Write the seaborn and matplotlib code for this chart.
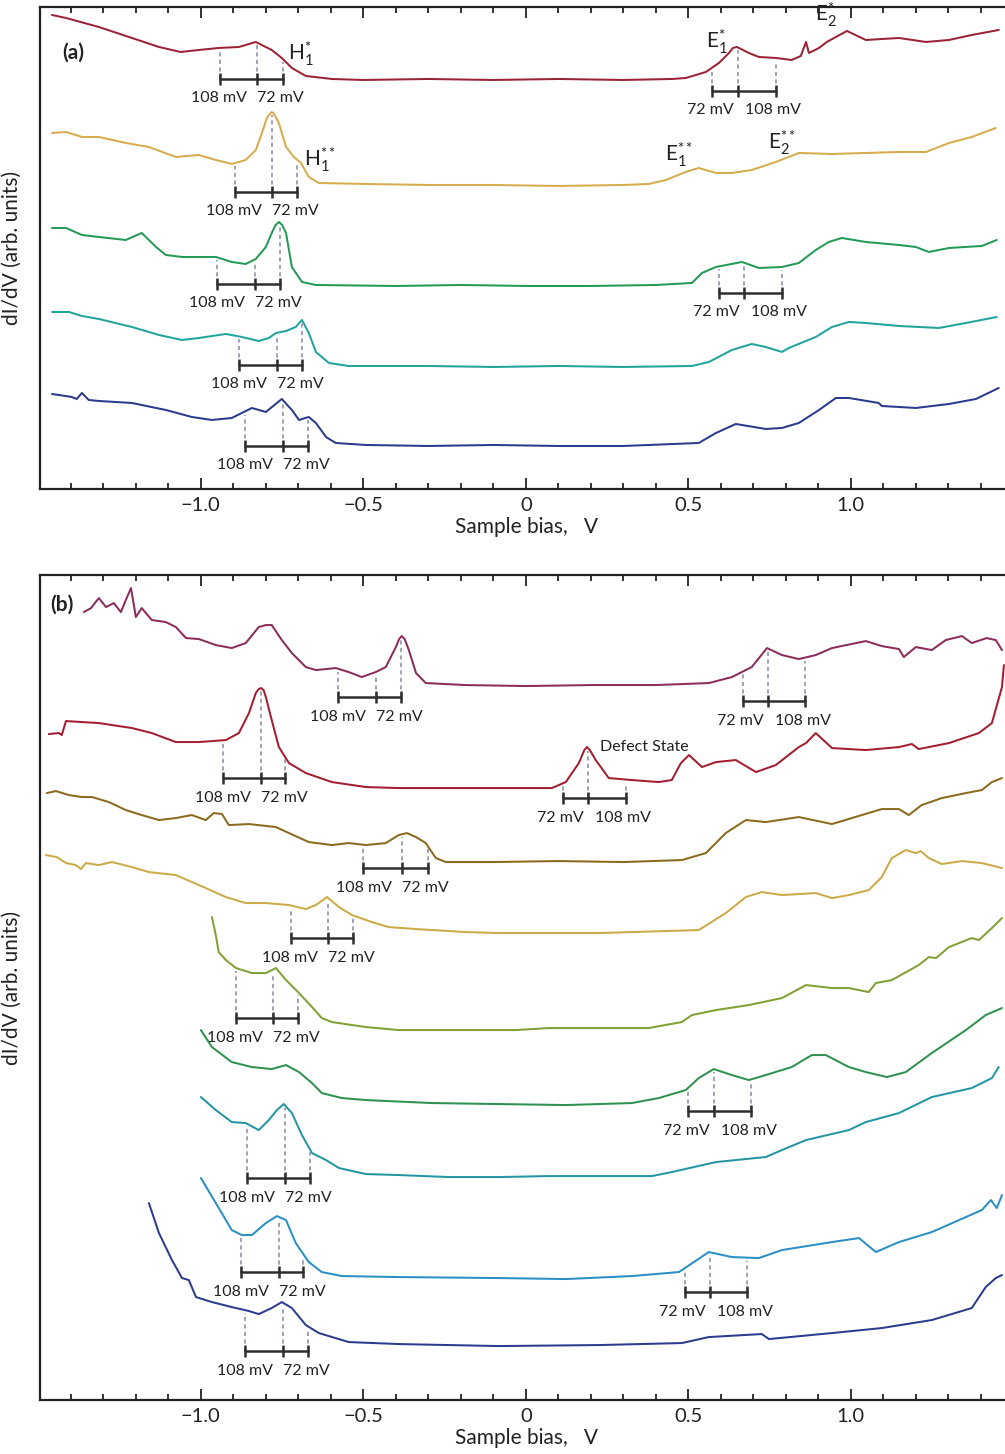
import numpy as np
import matplotlib
matplotlib.use("Agg")
import matplotlib.pyplot as plt
import seaborn as sns
from matplotlib.ticker import MultipleLocator

# ---- panel (a) spectra: sample bias (V) and dI/dV (arb. units, stacked) ----
bias_a1 = [-1.458, -1.415, -1.314, -1.212, -1.129, -1.062, -1.006, -0.945, -0.883, -0.831, -0.782, -0.751,
           -0.720, -0.677, -0.597, -0.5, -0.3, -0.1, 0.1, 0.3, 0.45, 0.492, 0.554, 0.594, 0.625, 0.637, 0.649,
           0.662, 0.686, 0.717, 0.769, 0.818, 0.846, 0.862, 0.871, 0.902, 0.926, 0.954, 0.988, 1.046, 1.148,
           1.231, 1.302, 1.372, 1.455]
didv_a1 = [474, 471, 462, 451, 442, 437, 439, 441, 442, 447, 439, 431, 421, 413, 410, 409, 410, 409, 410, 409,
           410, 411, 417, 426, 436, 441, 442, 440, 436, 432, 431, 429, 433, 447, 436, 441, 447, 452, 458, 449,
           451, 447, 449, 454, 459]

bias_a2 = [-1.458, -1.415, -1.366, -1.314, -1.231, -1.160, -1.077, -1.006, -0.954, -0.905, -0.862, -0.831,
           -0.812, -0.797, -0.788, -0.782, -0.775, -0.760, -0.738, -0.714, -0.692, -0.668, -0.637, -0.492, -0.3,
           -0.1, 0.1, 0.3, 0.378, 0.431, 0.492, 0.532, 0.585, 0.634, 0.695, 0.769, 0.840, 0.942, 1.046, 1.148,
           1.231, 1.302, 1.372, 1.446]
didv_a2 = [356, 357, 352, 352, 346, 342, 332, 334, 329, 325, 329, 339, 356, 371, 375, 377, 375, 366, 342, 332,
           326, 312, 306, 305, 304, 304, 303, 304, 305, 309, 317, 321, 316, 316, 319, 327, 336, 335, 336, 337,
           337, 346, 352, 361]

bias_a3 = [-1.458, -1.415, -1.366, -1.314, -1.231, -1.182, -1.138, -1.108, -1.058, -0.954, -0.905, -0.862,
           -0.831, -0.800, -0.782, -0.770, -0.760, -0.750, -0.738, -0.720, -0.689, -0.646, -0.4, -0.2, 0.0, 0.2,
           0.4, 0.511, 0.542, 0.585, 0.665, 0.717, 0.788, 0.840, 0.892, 0.932, 0.972, 1.046, 1.148, 1.200,
           1.240, 1.302, 1.403, 1.449]
didv_a3 = [261, 261, 254, 252, 249, 256, 242, 234, 232, 232, 227, 225, 230, 242, 256, 264, 267, 264, 256, 222,
           207, 204, 203, 204, 203, 203, 204, 206, 216, 222, 227, 221, 222, 226, 239, 247, 251, 247, 244, 242,
           237, 241, 243, 249]

bias_a4 = [-1.458, -1.406, -1.366, -1.314, -1.212, -1.129, -1.058, -1.006, -0.923, -0.874, -0.822, -0.791,
           -0.769, -0.738, -0.708, -0.689, -0.668, -0.646, -0.606, -0.545, -0.3, -0.1, 0.1, 0.3, 0.511, 0.563,
           0.634, 0.695, 0.738, 0.788, 0.809, 0.892, 0.942, 0.994, 1.046, 1.148, 1.271, 1.354, 1.449]
didv_a4 = [177, 177, 173, 170, 162, 154, 149, 151, 155, 152, 148, 151, 156, 158, 162, 169, 156, 137, 126, 123,
           123, 122, 123, 122, 123, 127, 139, 145, 142, 137, 141, 152, 162, 167, 166, 163, 161, 166, 172]

bias_a5 = [-1.458, -1.397, -1.382, -1.366, -1.345, -1.314, -1.212, -1.108, -1.028, -0.966, -0.905, -0.874,
           -0.843, -0.800, -0.751, -0.720, -0.698, -0.668, -0.646, -0.615, -0.585, -0.492, -0.3, -0.1, 0.1, 0.3,
           0.532, 0.585, 0.646, 0.738, 0.788, 0.840, 0.902, 0.954, 0.994, 1.086, 1.095, 1.200, 1.302, 1.385,
           1.455]
didv_a5 = [95, 92, 90, 96, 89, 88, 86, 79, 72, 69, 71, 76, 81, 77, 90, 79, 69, 72, 66, 52, 46, 44, 43, 44, 43,
           43, 46, 56, 65, 60, 61, 66, 79, 91, 91, 86, 83, 81, 85, 90, 101]

# ---- panel (b) spectra ----
bias_b1 = [-1.360, -1.338, -1.314, -1.292, -1.268, -1.246, -1.231, -1.215, -1.200, -1.182, -1.151, -1.108,
           -1.077, -1.046, -1.006, -0.954, -0.905, -0.862, -0.822, -0.800, -0.782, -0.751, -0.720, -0.677,
           -0.646, -0.585, -0.545, -0.505, -0.462, -0.431, -0.400, -0.390, -0.382, -0.373, -0.360, -0.338,
           -0.308, -0.185, 0.0, 0.2, 0.4, 0.563, 0.634, 0.695, 0.742, 0.788, 0.840, 0.892, 0.942, 1.046, 1.095,
           1.148, 1.163, 1.200, 1.249, 1.292, 1.342, 1.372, 1.418, 1.446, 1.465]
didv_b1 = [788, 792, 802, 793, 797, 788, 800, 812, 783, 792, 780, 778, 773, 762, 761, 755, 752, 757, 773, 775,
           775, 760, 747, 733, 730, 732, 728, 723, 728, 733, 753, 761, 764, 761, 750, 727, 717, 715, 714, 715,
           715, 717, 723, 733, 752, 745, 741, 745, 752, 759, 754, 751, 743, 753, 750, 760, 764, 757, 762, 760,
           750]

bias_b2 = [-1.468, -1.437, -1.428, -1.415, -1.366, -1.314, -1.212, -1.151, -1.077, -1.006, -0.923, -0.883,
           -0.852, -0.831, -0.822, -0.815, -0.807, -0.800, -0.782, -0.760, -0.729, -0.677, -0.597, -0.492,
           -0.391, -0.083, 0.080, 0.123, 0.163, 0.180, 0.188, 0.197, 0.215, 0.255, 0.326, 0.409, 0.449, 0.477,
           0.502, 0.542, 0.585, 0.646, 0.708, 0.769, 0.840, 0.862, 0.892, 0.942, 1.046, 1.148, 1.188, 1.209,
           1.302, 1.394, 1.434, 1.465, 1.471]
didv_b2 = [666, 667, 665, 679, 678, 677, 672, 667, 658, 658, 660, 667, 687, 707, 711, 712, 710, 703, 680, 653,
           637, 627, 618, 613, 612, 612, 612, 618, 637, 650, 653, 650, 640, 622, 620, 618, 620, 637, 645, 633,
           638, 640, 628, 635, 653, 657, 667, 652, 650, 653, 656, 651, 657, 667, 677, 713, 735]

bias_b3 = [-1.474, -1.446, -1.406, -1.366, -1.335, -1.283, -1.231, -1.182, -1.129, -1.077, -1.028, -0.985,
           -0.960, -0.935, -0.914, -0.852, -0.769, -0.729, -0.668, -0.597, -0.545, -0.492, -0.431, -0.391,
           -0.366, -0.338, -0.308, -0.277, -0.246, -0.1, 0.1, 0.3, 0.480, 0.554, 0.615, 0.677, 0.738, 0.840,
           0.942, 1.003, 1.095, 1.148, 1.178, 1.218, 1.280, 1.354, 1.403, 1.434, 1.465]
didv_b3 = [607, 609, 605, 603, 603, 598, 590, 585, 580, 582, 585, 580, 587, 586, 575, 576, 573, 567, 558, 555,
           557, 555, 557, 565, 567, 563, 557, 542, 538, 538, 539, 538, 540, 547, 567, 580, 578, 583, 576, 582,
           591, 591, 585, 595, 602, 607, 610, 618, 622]

bias_b4 = [-1.477, -1.443, -1.415, -1.385, -1.369, -1.354, -1.314, -1.274, -1.212, -1.160, -1.077, -1.006,
           -0.923, -0.862, -0.800, -0.729, -0.677, -0.646, -0.612, -0.575, -0.535, -0.474, -0.422, -0.338,
           -0.185, -0.083, 0.225, 0.532, 0.615, 0.677, 0.726, 0.788, 0.892, 0.942, 0.994, 1.055, 1.095, 1.126,
           1.169, 1.200, 1.215, 1.240, 1.280, 1.342, 1.403, 1.465]
didv_b4 = [545, 543, 537, 535, 531, 537, 535, 538, 533, 528, 525, 515, 503, 497, 497, 495, 491, 495, 503, 493,
           485, 478, 473, 471, 468, 467, 467, 470, 487, 503, 508, 505, 507, 502, 505, 510, 523, 542, 550, 547,
           549, 542, 536, 539, 537, 532]

bias_b5 = [-0.966, -0.954, -0.945, -0.923, -0.892, -0.843, -0.800, -0.769, -0.738, -0.698, -0.658, -0.628,
           -0.597, -0.492, -0.391, -0.185, -0.031, 0.071, 0.225, 0.378, 0.480, 0.511, 0.585, 0.686, 0.788,
           0.862, 0.942, 0.994, 1.055, 1.077, 1.126, 1.209, 1.240, 1.262, 1.302, 1.372, 1.394, 1.434, 1.465]
didv_b5 = [483, 465, 448, 440, 432, 427, 427, 432, 420, 407, 393, 382, 378, 373, 370, 370, 370, 372, 372, 372,
           378, 385, 390, 395, 402, 415, 412, 412, 408, 417, 420, 435, 443, 442, 453, 462, 460, 472, 482]

bias_b6 = [-1.000, -0.966, -0.905, -0.843, -0.782, -0.738, -0.698, -0.658, -0.628, -0.566, -0.492, -0.289,
           -0.083, 0.123, 0.326, 0.409, 0.492, 0.532, 0.578, 0.634, 0.686, 0.738, 0.818, 0.880, 0.923, 0.994,
           1.046, 1.111, 1.169, 1.249, 1.354, 1.415, 1.465]
didv_b6 = [370, 353, 338, 333, 331, 335, 328, 317, 307, 302, 300, 297, 296, 295, 297, 302, 310, 322, 331, 325,
           320, 325, 333, 345, 345, 333, 328, 323, 328, 347, 370, 385, 392]

bias_b7 = [-1.000, -0.954, -0.905, -0.862, -0.822, -0.791, -0.766, -0.745, -0.720, -0.689, -0.658, -0.615,
           -0.575, -0.492, -0.391, -0.237, -0.083, 0.071, 0.225, 0.388, 0.449, 0.585, 0.738, 0.788, 0.862,
           0.994, 1.046, 1.148, 1.249, 1.372, 1.434, 1.455]
didv_b7 = [303, 290, 278, 277, 270, 280, 290, 296, 287, 265, 247, 240, 232, 226, 225, 223, 223, 224, 224, 224,
           228, 238, 243, 250, 260, 270, 278, 287, 303, 312, 322, 333]

bias_b8 = [-1.000, -0.954, -0.905, -0.874, -0.843, -0.800, -0.766, -0.738, -0.708, -0.668, -0.628, -0.566,
           -0.391, -0.083, 0.123, 0.326, 0.471, 0.563, 0.634, 0.717, 0.788, 0.942, 1.025, 1.077, 1.148, 1.249,
           1.354, 1.403, 1.431, 1.449, 1.465]
didv_b8 = [222, 197, 170, 165, 165, 177, 184, 180, 157, 138, 128, 124, 123, 122, 121, 124, 128, 148, 143, 142,
           150, 158, 162, 148, 158, 168, 183, 190, 200, 192, 205]

bias_b9 = [-1.160, -1.129, -1.089, -1.058, -1.037, -1.015, -0.966, -0.905, -0.852, -0.822, -0.782, -0.751,
           -0.720, -0.677, -0.637, -0.545, -0.391, -0.083, 0.225, 0.480, 0.563, 0.726, 0.748, 0.942, 1.095,
           1.249, 1.372, 1.415, 1.446, 1.465]
didv_b9 = [197, 167, 140, 122, 120, 103, 98, 93, 89, 86, 92, 98, 92, 75, 67, 58, 56, 54, 55, 57, 63, 66, 61,
           67, 72, 80, 92, 113, 122, 125]

colors_a = ["#9B2335", "#D6AC4E", "#249A57", "#22A39C", "#2B3A8C"]
colors_b = ["#8C2C5A", "#A21E30", "#8A6B1E", "#CDAA48", "#82A035", "#2F9150", "#2496A2", "#2B8FC6", "#2C3B8F"]

# ---- 108 / 72 mV markers: (curve index, left, centre, right bias in V, bar level) ----
marks_a = [(0, -0.942, -0.828, -0.748, 410), (0, 0.572, 0.652, 0.769, 398),
           (1, -0.895, -0.782, -0.705, 297),
           (2, -0.951, -0.834, -0.757, 205), (2, 0.594, 0.671, 0.788, 196),
           (3, -0.883, -0.766, -0.689, 124),
           (4, -0.865, -0.748, -0.671, 43)]
marks_b = [(0, -0.578, -0.462, -0.385, 703), (0, 0.668, 0.745, 0.858, 699),
           (1, -0.932, -0.815, -0.742, 622), (1, 0.114, 0.191, 0.308, 602),
           (2, -0.502, -0.382, -0.302, 532),
           (3, -0.723, -0.609, -0.532, 462),
           (4, -0.892, -0.778, -0.701, 382),
           (5, 0.498, 0.578, 0.692, 289),
           (6, -0.858, -0.742, -0.665, 222),
           (7, -0.877, -0.760, -0.686, 128), (7, 0.489, 0.566, 0.680, 108),
           (8, -0.865, -0.748, -0.671, 49)]

# peak names in panel (a): (text, bias, level)
peaks_a = [(r"$\mathrm{H}_1^{*}$", -0.692, 435), (r"$\mathrm{H}_1^{**}$", -0.634, 329),
           (r"$\mathrm{E}_1^{*}$", 0.588, 447), (r"$\mathrm{E}_2^{*}$", 0.923, 474),
           (r"$\mathrm{E}_1^{**}$", 0.471, 334), (r"$\mathrm{E}_2^{**}$", 0.788, 346)]

sns.set_theme(style="ticks")
plt.rcParams["font.family"] = ["Lato", "DejaVu Sans"]
plt.rcParams["mathtext.fontset"] = "custom"
plt.rcParams["mathtext.rm"] = "Lato"
plt.rcParams["mathtext.it"] = "Lato:italic"

DASH = "#8E93AE"
BAR = "#2E2E2E"


def draw_marks(ax, marks, curves):
    for idx, xl, xm, xr, lev in marks:
        cx, cy = curves[idx]
        for x in (xl, xm, xr):
            top = np.interp(x, cx, cy) - 3
            ax.vlines(x, lev, top, colors=DASH, linestyles=(0, (2.5, 2)), lw=1.2)
        ax.plot([xl, xm, xr], [lev] * 3, color=BAR, lw=1.8, marker="|", ms=9, mew=1.8)
        if xm < 0:
            texts, offs = ("108 mV", "72 mV"), (-7, 0)
        else:
            texts, offs = ("72 mV", "108 mV"), (-3, 5)
        ax.annotate(texts[0], (xm, lev), xytext=(offs[0], -14), textcoords="offset points",
                    ha="right", va="center", fontsize=11.5, color="#222222")
        ax.annotate(texts[1], (xm, lev), xytext=(offs[1], -14), textcoords="offset points",
                    ha="left", va="center", fontsize=11.5, color="#222222")


def style_axis(ax, ymax):
    ax.set_xlim(-1.495, 1.5)
    ax.set_ylim(0, ymax)
    ax.set_yticks([])
    ax.xaxis.set_major_locator(MultipleLocator(0.5))
    ax.xaxis.set_minor_locator(MultipleLocator(0.1))
    ax.set_xticks([-1.0, -0.5, 0.0, 0.5, 1.0])
    ax.set_xticklabels(["\u22121.0", "\u22120.5", "0", "0.5", "1.0"])
    ax.tick_params(axis="x", which="both", direction="in", top=True, bottom=True,
                   labelsize=14.5, pad=6, width=1.3, colors="#222222")
    ax.tick_params(axis="x", which="major", length=8)
    ax.tick_params(axis="x", which="minor", length=4)
    for s in ax.spines.values():
        s.set_linewidth(1.6)
        s.set_color("#222222")
    ax.set_xlabel("Sample bias,   V", fontsize=15, labelpad=2, color="#222222")
    ax.set_ylabel("dI/dV (arb. units)", fontsize=15, color="#222222")
    ax.yaxis.set_label_coords(-0.0185, 0.5)


fig = plt.figure(figsize=(10.05, 14.54), dpi=100)
ax_a = fig.add_axes([0.0398, 0.6637, 0.9685, 0.3315])
ax_b = fig.add_axes([0.0398, 0.0371, 0.9685, 0.5674])

curves_a = [(bias_a1, didv_a1), (bias_a2, didv_a2), (bias_a3, didv_a3), (bias_a4, didv_a4), (bias_a5, didv_a5)]
curves_b = [(bias_b1, didv_b1), (bias_b2, didv_b2), (bias_b3, didv_b3), (bias_b4, didv_b4), (bias_b5, didv_b5),
            (bias_b6, didv_b6), (bias_b7, didv_b7), (bias_b8, didv_b8), (bias_b9, didv_b9)]

for (bx, dy), c in zip(curves_a, colors_a):
    sns.lineplot(x=bx, y=dy, ax=ax_a, color=c, lw=1.45, estimator=None, sort=False)
for (bx, dy), c in zip(curves_b, colors_b):
    sns.lineplot(x=bx, y=dy, ax=ax_b, color=c, lw=1.45, estimator=None, sort=False)

draw_marks(ax_a, marks_a, curves_a)
draw_marks(ax_b, marks_b, curves_b)

for txt, x, y in peaks_a:
    ax_a.text(x, y, txt, ha="center", va="center", fontsize=15, color="#222222")
ax_b.text(0.366, 653, "Defect State", ha="center", va="center", fontsize=11.5, color="#222222")

style_axis(ax_a, 482)
style_axis(ax_b, 825)
ax_a.text(0.023, 0.905, "(a)", transform=ax_a.transAxes, ha="left", va="center",
          fontsize=15, fontweight="bold", color="#222222")
ax_b.text(0.011, 0.964, "(b)", transform=ax_b.transAxes, ha="left", va="center",
          fontsize=15, fontweight="bold", color="#222222")

fig.savefig("out.png", dpi=100)
